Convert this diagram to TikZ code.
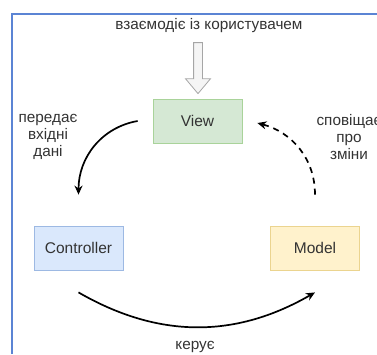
\documentclass[tikz,border=0pt]{standalone}
\usepackage{fontspec}
\setmainfont{Liberation Sans}
\usepackage{tikz}
\usetikzlibrary{arrows.meta, positioning, shapes.arrows}

\definecolor{frameblue}{HTML}{5B84D4}
\definecolor{txtgray}{HTML}{333333}
\definecolor{viewfill}{HTML}{D5E8D4}
\definecolor{viewline}{HTML}{A9D39A}
\definecolor{ctrlfill}{HTML}{DAE8FC}
\definecolor{ctrlline}{HTML}{9DB9E3}
\definecolor{modelfill}{HTML}{FFF2CC}
\definecolor{modelline}{HTML}{EBD48F}

\tikzset{
    block/.style={draw, line width=0.8pt, minimum width=89pt, minimum height=44pt,
        inner sep=0pt, font=\fontsize{15.5}{17}\selectfont, text=txtgray},
    note/.style={font=\fontsize{15.3}{16.8}\selectfont, text=txtgray, align=center},
    flow/.style={line width=1.7pt, -{Stealth[length=9pt, width=8pt]}}
}

\begin{document}
\begin{tikzpicture}[x=1pt, y=-1pt]
    \useasboundingbox (0,0) rectangle (377,354);
    \clip (0,0) rectangle (377,354);

    % frame
    \draw[frameblue, line width=2pt] (11.5,354) -- (11.5,13.5) -- (377,13.5);

    \node[block, fill=viewfill, draw=viewline] (view) at (197.5,121) {View};
    \node[block, fill=ctrlfill, draw=ctrlline] (controller) at (78.5,248) {Controller};
    \node[block, fill=modelfill, draw=modelline] (model) at (315,248) {Model};

    \node[note] (user) at (209,26) {взаємодіє із користувачем};
    \node[single arrow, draw=gray!70, fill=gray!8, line width=0.8pt,
          minimum height=51pt, minimum width=24pt, inner sep=4pt,
          single arrow head extend=8pt, single arrow tip angle=80,
          shape border rotate=270] (userarrow) at (198,65.5) {};

    \node[note] (input) at (48,137) {передає\\вхідні\\дані};
    \node[note] (notify) at (349,137) {сповіщає\\про\\зміни};
    \node[note] (manage) at (195,347) {керує};

    % free ends of the curved connectors
    \coordinate (vout) at ([xshift=-15pt]view.west);
    \coordinate (cin) at ([yshift=31pt]controller.north);
    \coordinate (vin) at ([xshift=15pt,yshift=-2pt]view.east);
    \coordinate (mout) at ([yshift=31pt]model.north);
    \coordinate (cout) at ([yshift=-22pt]controller.south);
    \coordinate (min) at ([yshift=-22pt]model.south);

    \draw[flow] (vout) to[out=190, in=90] (cin);
    \draw[flow, dash pattern=on 6pt off 5pt] (mout) to[out=90, in=-15] (vin);
    \draw[flow] (cout) to[out=-30, in=-150] (min);
\end{tikzpicture}
\end{document}
